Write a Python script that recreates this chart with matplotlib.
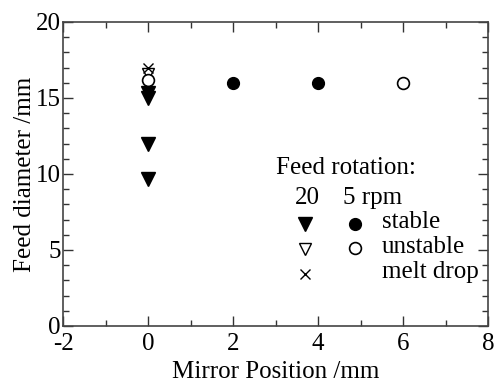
import matplotlib
matplotlib.use("Agg")
import matplotlib.pyplot as plt
from matplotlib.ticker import MultipleLocator

plt.rcParams['font.family'] = ['Liberation Serif', 'DejaVu Serif']
plt.rcParams['axes.unicode_minus'] = False

# data
stable20_x = [0, 0, 0, 0]
stable20_y = [15.3, 15.0, 12.0, 9.7]
unstable20_x = [0]
unstable20_y = [16.6]
melt20_x = [0]
melt20_y = [17.0]
stable5_x = [2, 4]
stable5_y = [16.0, 16.0]
unstable5_x = [0, 6]
unstable5_y = [16.2, 16.0]

FS = 18

fig = plt.figure(figsize=(4.97, 3.83), dpi=100)
ax = fig.add_axes([63/497, 1-326/383, 425/497, 304/383])

ax.plot(stable20_x, stable20_y, 'v', color='black', ms=10, ls='none')
ax.plot(unstable20_x, unstable20_y, 'v', mfc='white', mec='black', mew=1.0, ms=9, ls='none')
ax.plot(melt20_x, melt20_y, 'x', color='black', ms=7, mew=1.0, ls='none')
ax.plot(unstable5_x, unstable5_y, 'o', mfc='white', mec='black', mew=1.2, ms=8.5, ls='none')
ax.plot(stable5_x, stable5_y, 'o', color='black', ms=8.5, ls='none')

ax.set_xlim(-2, 8)
ax.set_ylim(0, 20)
ax.xaxis.set_major_locator(MultipleLocator(2))
ax.xaxis.set_minor_locator(MultipleLocator(1))
ax.yaxis.set_major_locator(MultipleLocator(5))
ax.yaxis.set_minor_locator(MultipleLocator(1))
ax.tick_params(which='both', direction='in', top=True, right=True, labelsize=FS, width=1.0, color='#333333')
ax.tick_params(which='major', length=7)
ax.tick_params(axis='x', which='major', pad=5)
ax.tick_params(axis='y', which='major', pad=1.5)
ax.tick_params(which='minor', length=4)
for s in ax.spines.values():
    s.set_color('#444444')
    s.set_linewidth(1.2)

ax.set_xlabel('Mirror Position /mm', fontsize=FS, labelpad=4)
ax.set_ylabel('Feed diameter /mm', fontsize=FS, labelpad=0)

# manual legend in axes fraction
def fx(px):
    return (px - 63) / 425
def fy(py):
    return (326 - py) / 304

tr = ax.transAxes
ax.text(fx(276), fy(168), 'Feed rotation:', transform=tr, fontsize=FS, va='center', ha='left')
ax.text(fx(307), fy(198), '20', transform=tr, fontsize=FS, va='center', ha='center')
ax.text(fx(343), fy(198), '5 rpm', transform=tr, fontsize=FS, va='center', ha='left')
ax.plot([fx(305)], [fy(224)], 'v', color='black', ms=10, transform=tr, clip_on=False)
ax.plot([fx(355)], [fy(224)], 'o', color='black', ms=8.5, transform=tr, clip_on=False)
ax.text(fx(382), fy(222), 'stable', transform=tr, fontsize=FS, va='center', ha='left')
ax.plot([fx(305)], [fy(249)], 'v', mfc='white', mec='black', mew=1.0, ms=9, transform=tr, clip_on=False)
ax.plot([fx(355)], [fy(248)], 'o', mfc='white', mec='black', mew=1.2, ms=8.5, transform=tr, clip_on=False)
ax.text(fx(382), fy(247), 'unstable', transform=tr, fontsize=FS, va='center', ha='left')
ax.plot([fx(305)], [fy(274)], 'x', color='black', ms=7, mew=1.0, transform=tr, clip_on=False)
ax.text(fx(382), fy(272), 'melt drop', transform=tr, fontsize=FS, va='center', ha='left')

fig.savefig('out.png', dpi=100)
